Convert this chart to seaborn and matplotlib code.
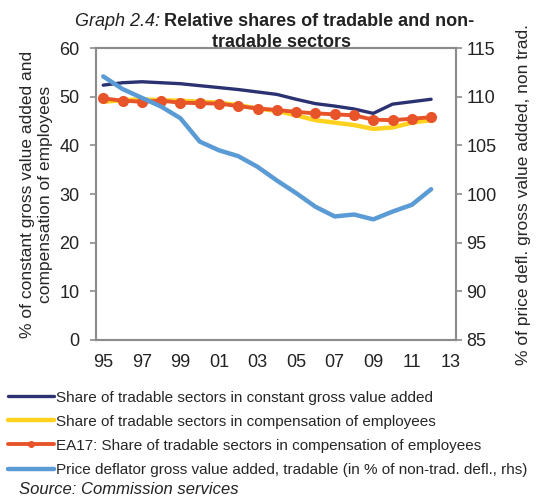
import matplotlib
matplotlib.use("Agg")
import matplotlib.pyplot as plt
import seaborn as sns
import pandas as pd

years = list(range(1995, 2013))
share_gva = [52.4, 52.9, 53.1, 52.9, 52.7, 52.3, 51.9, 51.5, 51.0, 50.5,
             49.5, 48.6, 48.1, 47.5, 46.6, 48.5, 49.0, 49.5]
share_comp = [49.0, 49.3, 49.5, 49.3, 49.2, 49.0, 48.8, 48.3, 47.6, 47.1,
              46.2, 45.2, 44.7, 44.2, 43.4, 43.7, 44.7, 45.2]
ea17_comp = [49.7, 49.2, 49.0, 49.2, 48.8, 48.7, 48.6, 48.1, 47.6, 47.3,
             46.9, 46.6, 46.4, 46.2, 45.3, 45.2, 45.5, 45.8]
deflator = [112.1, 110.8, 109.9, 109.0, 107.8, 105.4, 104.5, 103.9, 102.8, 101.4,
            100.1, 98.7, 97.7, 97.9, 97.4, 98.2, 98.9, 100.5]
xtick_vals = list(range(1995, 2014, 2))
xtick_labels = ["95", "97", "99", "01", "03", "05", "07", "09", "11", "13"]

labels = ["Share of tradable sectors in constant gross value added",
          "Share of tradable sectors in compensation of employees",
          "EA17: Share of tradable sectors in compensation of employees",
          "Price deflator gross value added, tradable (in % of non-trad. defl., rhs)"]
colors = ["#2B3272", "#FFD21F", "#E8542A", "#5A9BD5"]

df = pd.DataFrame({"year": years, "gva": share_gva, "comp": share_comp,
                   "ea17": ea17_comp, "defl": deflator})

sns.set_style("white")
plt.rcParams["font.family"] = ["Liberation Sans", "DejaVu Sans"]

fig = plt.figure(figsize=(5.42, 4.97), dpi=100)
ax = fig.add_axes([0.177, 0.316, 0.664, 0.587])
ax2 = ax.twinx()

sns.lineplot(data=df, x="year", y="gva", ax=ax, color=colors[0], linewidth=2.4)
sns.lineplot(data=df, x="year", y="comp", ax=ax, color=colors[1], linewidth=3.2)
sns.lineplot(data=df, x="year", y="ea17", ax=ax, color=colors[2], linewidth=2.8,
             marker="o", markersize=8, markeredgewidth=0)
sns.lineplot(data=df, x="year", y="defl", ax=ax2, color=colors[3], linewidth=3.2)

ax.set_xlim(1994.62, 2013.28)
ax.set_ylim(0, 60)
ax2.set_ylim(85, 115)
ax.set_xticks(xtick_vals)
ax.set_xticklabels(xtick_labels)
ax.set_yticks(range(0, 61, 10))
ax2.set_yticks(range(85, 116, 5))
ax.set_xlabel("")
ax.set_ylabel("% of constant gross value added and\ncompensation of employees",
              fontsize=12.5, labelpad=4, linespacing=1.3)
ax2.set_ylabel("% of price defl. gross value added, non trad.", fontsize=12.5, labelpad=14)

for a in (ax, ax2):
    for s in a.spines.values():
        s.set_color("#8C8C8C")
        s.set_linewidth(1.5)
    a.tick_params(labelsize=13, colors="#222222", length=4, width=1.2, direction="out")
    a.tick_params(axis="both", color="#8C8C8C")
ax.tick_params(axis="x", pad=6)
ax.tick_params(axis="y", pad=8)

# title: italic prefix followed by bold text on the same line
renderer = fig.canvas.get_renderer()
t1 = fig.text(75 / 542, 0.948, "Graph 2.4:", fontsize=13, style="italic",
              ha="left", color="#222222")
bb = t1.get_window_extent(renderer=renderer)
fig.text((bb.x1 + 4) / 542, 0.948, "Relative shares of tradable and non-", fontsize=13,
         weight="bold", ha="left", color="#222222")
fig.text(282 / 542, 0.906, "tradable sectors", fontsize=13, weight="bold",
         ha="center", color="#222222")

handles = [plt.Line2D([], [], color=colors[0], linewidth=2.4),
           plt.Line2D([], [], color=colors[1], linewidth=3.2),
           plt.Line2D([], [], color=colors[2], linewidth=2.8, marker="o", markersize=4),
           plt.Line2D([], [], color=colors[3], linewidth=3.2)]
fig.legend(handles, labels, loc="upper left", bbox_to_anchor=(8 / 542, 0.214), frameon=False,
           fontsize=11, handlelength=3.0, handletextpad=0.15, labelspacing=0.66,
           borderaxespad=0, borderpad=0)
fig.text(0.035, 0.006, "Source: Commission services", fontsize=12, style="italic", color="#222222")

fig.savefig("out.png", dpi=100)
